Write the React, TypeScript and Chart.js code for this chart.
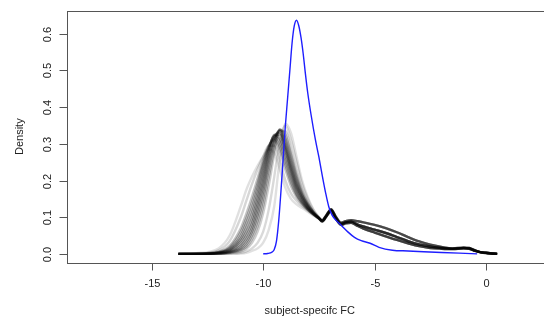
import React, { useEffect, useRef } from "react";
import { Chart, registerables } from "chart.js";

Chart.register(...registerables);

// ---- axis ticks ----
const X_TICKS = [-15, -10, -5, 0];
const Y_TICKS = [0, 0.1, 0.2, 0.3, 0.4, 0.5, 0.6];
const Y_TICK_LABELS = ["0.0", "0.1", "0.2", "0.3", "0.4", "0.5", "0.6"];
const X_TITLE = "subject-specifc FC";
const Y_TITLE = "Density";

// ---- blue (observed) density ----
const BLUE_X = [-10, -9.8, -9.6, -9.5, -9.4, -9.3, -9.2, -9.1, -9.0, -8.9, -8.8, -8.7, -8.6, -8.5, -8.4, -8.3, -8.2, -8.1, -8.0, -7.85, -7.65, -7.5, -7.35, -7.2, -7.05, -6.9, -6.7, -6.5, -6.2, -5.9, -5.6, -5.2, -4.8, -4.2, -3.5, -2.8, -2.0, -1.2, -0.4];
const BLUE_Y = [0, 0.001, 0.005, 0.012, 0.035, 0.09, 0.17, 0.26, 0.35, 0.425, 0.5, 0.575, 0.622, 0.637, 0.622, 0.59, 0.545, 0.49, 0.44, 0.38, 0.31, 0.265, 0.215, 0.168, 0.128, 0.105, 0.09, 0.078, 0.06, 0.045, 0.036, 0.029, 0.018, 0.01, 0.008, 0.006, 0.004, 0.002, 0];

// ---- grey (simulated) densities: left part per curve ----
const HEAD_X = [-13.8, -13, -12, -11.5, -11, -10.75, -10.5, -10.25, -10, -9.75, -9.5, -9.25, -9, -8.75, -8.5, -8.25, -8, -7.75, -7.5];
const HEAD_1 = [0, 0.002, 0.015, 0.05, 0.13, 0.175, 0.21, 0.24, 0.265, 0.285, 0.275, 0.23, 0.18, 0.15, 0.135, 0.125, 0.115, 0.105, 0.095];
const HEAD_2 = [0, 0.001, 0.01, 0.035, 0.1, 0.145, 0.19, 0.23, 0.265, 0.295, 0.295, 0.255, 0.2, 0.165, 0.145, 0.13, 0.118, 0.107, 0.096];
const HEAD_3 = [0, 0.001, 0.006, 0.022, 0.07, 0.11, 0.155, 0.205, 0.255, 0.295, 0.31, 0.28, 0.23, 0.185, 0.155, 0.135, 0.12, 0.108, 0.097];
const HEAD_3B = [0, 0, 0.005, 0.018, 0.06, 0.097, 0.14, 0.192, 0.248, 0.292, 0.315, 0.293, 0.243, 0.195, 0.16, 0.138, 0.121, 0.108, 0.097];
const HEAD_4 = [0, 0, 0.004, 0.015, 0.05, 0.085, 0.125, 0.18, 0.24, 0.29, 0.32, 0.305, 0.255, 0.205, 0.165, 0.14, 0.122, 0.108, 0.097];
const HEAD_4B = [0, 0, 0.0035, 0.012, 0.042, 0.072, 0.11, 0.165, 0.228, 0.285, 0.323, 0.315, 0.268, 0.215, 0.172, 0.144, 0.124, 0.109, 0.097];
const HEAD_5 = [0, 0, 0.003, 0.01, 0.035, 0.06, 0.095, 0.15, 0.215, 0.28, 0.325, 0.325, 0.28, 0.225, 0.178, 0.148, 0.126, 0.11, 0.097];
const HEAD_5B = [0, 0, 0.0025, 0.008, 0.028, 0.05, 0.082, 0.135, 0.2, 0.27, 0.32, 0.33, 0.288, 0.232, 0.184, 0.152, 0.128, 0.111, 0.098];
const HEAD_6 = [0, 0, 0.002, 0.006, 0.022, 0.04, 0.07, 0.12, 0.185, 0.26, 0.315, 0.335, 0.295, 0.24, 0.19, 0.155, 0.13, 0.112, 0.098];
const HEAD_6B = [0, 0, 0.0015, 0.005, 0.017, 0.032, 0.06, 0.105, 0.168, 0.245, 0.308, 0.338, 0.305, 0.25, 0.198, 0.159, 0.133, 0.113, 0.098];
const HEAD_7 = [0, 0, 0.001, 0.004, 0.013, 0.025, 0.05, 0.09, 0.15, 0.23, 0.3, 0.34, 0.315, 0.26, 0.205, 0.163, 0.135, 0.114, 0.098];
const HEAD_7B = [0, 0, 0.0005, 0.003, 0.01, 0.019, 0.04, 0.075, 0.13, 0.208, 0.285, 0.338, 0.325, 0.272, 0.215, 0.169, 0.138, 0.115, 0.099];
const HEAD_8 = [0, 0, 0, 0.002, 0.007, 0.014, 0.03, 0.06, 0.11, 0.185, 0.27, 0.335, 0.335, 0.285, 0.225, 0.175, 0.14, 0.116, 0.099];
const HEAD_9 = [0, 0, 0, 0.001, 0.003, 0.007, 0.015, 0.03, 0.06, 0.12, 0.21, 0.31, 0.35, 0.31, 0.25, 0.19, 0.15, 0.12, 0.1];
const HEAD_10 = [0, 0, 0, 0, 0.001, 0.003, 0.008, 0.015, 0.03, 0.065, 0.13, 0.26, 0.355, 0.33, 0.265, 0.2, 0.155, 0.122, 0.1];

// ---- grey densities: shared right tail (three variants) ----
const TAIL_X = [-7.35, -7.15, -6.95, -6.75, -6.5, -6.3, -6.05, -5.75, -5.5, -5, -4.5, -4, -3.5, -3, -2.5, -2, -1.5, -1, -0.75, -0.5, -0.25, 0, 0.25, 0.5];
const TAIL_MID = [0.09, 0.105, 0.12, 0.1, 0.082, 0.086, 0.088, 0.08, 0.075, 0.066, 0.057, 0.046, 0.035, 0.026, 0.02, 0.016, 0.014, 0.016, 0.015, 0.009, 0.005, 0.003, 0.001, 0];
const TAIL_HIGH = [0.092, 0.107, 0.122, 0.103, 0.085, 0.089, 0.092, 0.089, 0.086, 0.079, 0.07, 0.059, 0.046, 0.034, 0.025, 0.019, 0.015, 0.017, 0.016, 0.01, 0.005, 0.003, 0.001, 0];
const TAIL_LOW = [0.088, 0.103, 0.117, 0.097, 0.079, 0.083, 0.085, 0.076, 0.069, 0.058, 0.048, 0.038, 0.029, 0.021, 0.016, 0.014, 0.013, 0.015, 0.014, 0.008, 0.004, 0.002, 0.001, 0];

const GREY_CURVES: [number[], number[]][] = [
  [HEAD_1, TAIL_LOW],
  [HEAD_2, TAIL_MID],
  [HEAD_3, TAIL_HIGH],
  [HEAD_3B, TAIL_MID],
  [HEAD_4, TAIL_LOW],
  [HEAD_4B, TAIL_HIGH],
  [HEAD_5, TAIL_MID],
  [HEAD_5B, TAIL_LOW],
  [HEAD_6, TAIL_HIGH],
  [HEAD_6B, TAIL_MID],
  [HEAD_7, TAIL_MID],
  [HEAD_7B, TAIL_LOW],
  [HEAD_8, TAIL_LOW],
  [HEAD_9, TAIL_HIGH],
  [HEAD_10, TAIL_MID],
];
const GREY_ALPHA = [0.12, 0.16, 0.24, 0.28, 0.3, 0.33, 0.35, 0.35, 0.35, 0.33, 0.3, 0.26, 0.2, 0.15, 0.12];

const X_MIN = -18.81;
const X_MAX = 3.0;
const Y_MIN = -0.024;
const Y_MAX = 0.663;

const CANVAS_W = 570;
const CANVAS_H = 322;
const FONT = "Liberation Sans, Arial, Helvetica, sans-serif";

const rAxesPlugin = {
  id: "rAxes",
  afterDraw(chart: any) {
    const ctx = chart.ctx as CanvasRenderingContext2D;
    const area = chart.chartArea;
    const xs = chart.scales.x;
    const ys = chart.scales.y;
    ctx.save();
    ctx.strokeStyle = "#555";
    ctx.lineWidth = 1;
    ctx.strokeRect(Math.round(area.left) + 0.5, Math.round(area.top) + 0.5, Math.round(area.right - area.left), Math.round(area.bottom - area.top));
    ctx.fillStyle = "#222";
    ctx.font = `11px ${FONT}`;
    const by = Math.round(area.bottom) + 0.5;
    ctx.textAlign = "center";
    ctx.textBaseline = "middle";
    X_TICKS.forEach((v) => {
      const px = Math.round(xs.getPixelForValue(v)) + 0.5;
      ctx.beginPath();
      ctx.moveTo(px, by);
      ctx.lineTo(px, by + 7);
      ctx.stroke();
      ctx.fillText(String(v), px, 284);
    });
    const lx = Math.round(area.left) + 0.5;
    Y_TICKS.forEach((v, i) => {
      const py = Math.round(ys.getPixelForValue(v)) + 0.5;
      ctx.beginPath();
      ctx.moveTo(lx, py);
      ctx.lineTo(lx - 8, py);
      ctx.stroke();
      ctx.save();
      ctx.translate(47.5, py);
      ctx.rotate(-Math.PI / 2);
      ctx.fillText(Y_TICK_LABELS[i], 0, 0);
      ctx.restore();
    });
    ctx.fillText(X_TITLE, (area.left + area.right) / 2, 311);
    ctx.save();
    ctx.translate(20, (area.top + area.bottom) / 2);
    ctx.rotate(-Math.PI / 2);
    ctx.fillText(Y_TITLE, 0, 0);
    ctx.restore();
    ctx.restore();
  },
};

export default function App() {
  const ref = useRef<HTMLCanvasElement | null>(null);
  useEffect(() => {
    if (!ref.current) return;
    const blue = {
      data: BLUE_X.map((x, i) => ({ x, y: BLUE_Y[i] })),
      borderColor: "rgb(30,30,255)",
      borderWidth: 1.4,
      pointRadius: 0,
      cubicInterpolationMode: "monotone" as const,
      fill: false,
    };
    const greys = GREY_CURVES.map(([head, tail], k) => ({
      data: HEAD_X.map((x, i) => ({ x, y: head[i] })).concat(TAIL_X.map((x, i) => ({ x, y: tail[i] }))),
      borderColor: `rgba(0,0,0,${GREY_ALPHA[k]})`,
      borderWidth: 2.4,
      pointRadius: 0,
      cubicInterpolationMode: "monotone" as const,
      fill: false,
    }));
    const chart = new Chart(ref.current, {
      type: "line",
      data: { datasets: [blue, ...greys] },
      options: {
        animation: false,
        responsive: false,
        devicePixelRatio: 1,
        parsing: false as any,
        layout: { padding: { left: 66.7, top: 10.7, right: CANVAS_W - 552.9, bottom: CANVAS_H - 262.7 } },
        plugins: { legend: { display: false }, tooltip: { enabled: false } },
        scales: {
          x: { type: "linear", min: X_MIN, max: X_MAX, display: false },
          y: { type: "linear", min: Y_MIN, max: Y_MAX, display: false },
        },
      },
      plugins: [rAxesPlugin],
    });
    return () => chart.destroy();
  }, []);
  return (
    <div style={{ position: "fixed", left: 0, top: 0, width: 544, height: 322, overflow: "hidden", background: "#fff" }}>
      <canvas ref={ref} width={CANVAS_W} height={CANVAS_H} style={{ width: CANVAS_W, height: CANVAS_H, display: "block" }} />
    </div>
  );
}
